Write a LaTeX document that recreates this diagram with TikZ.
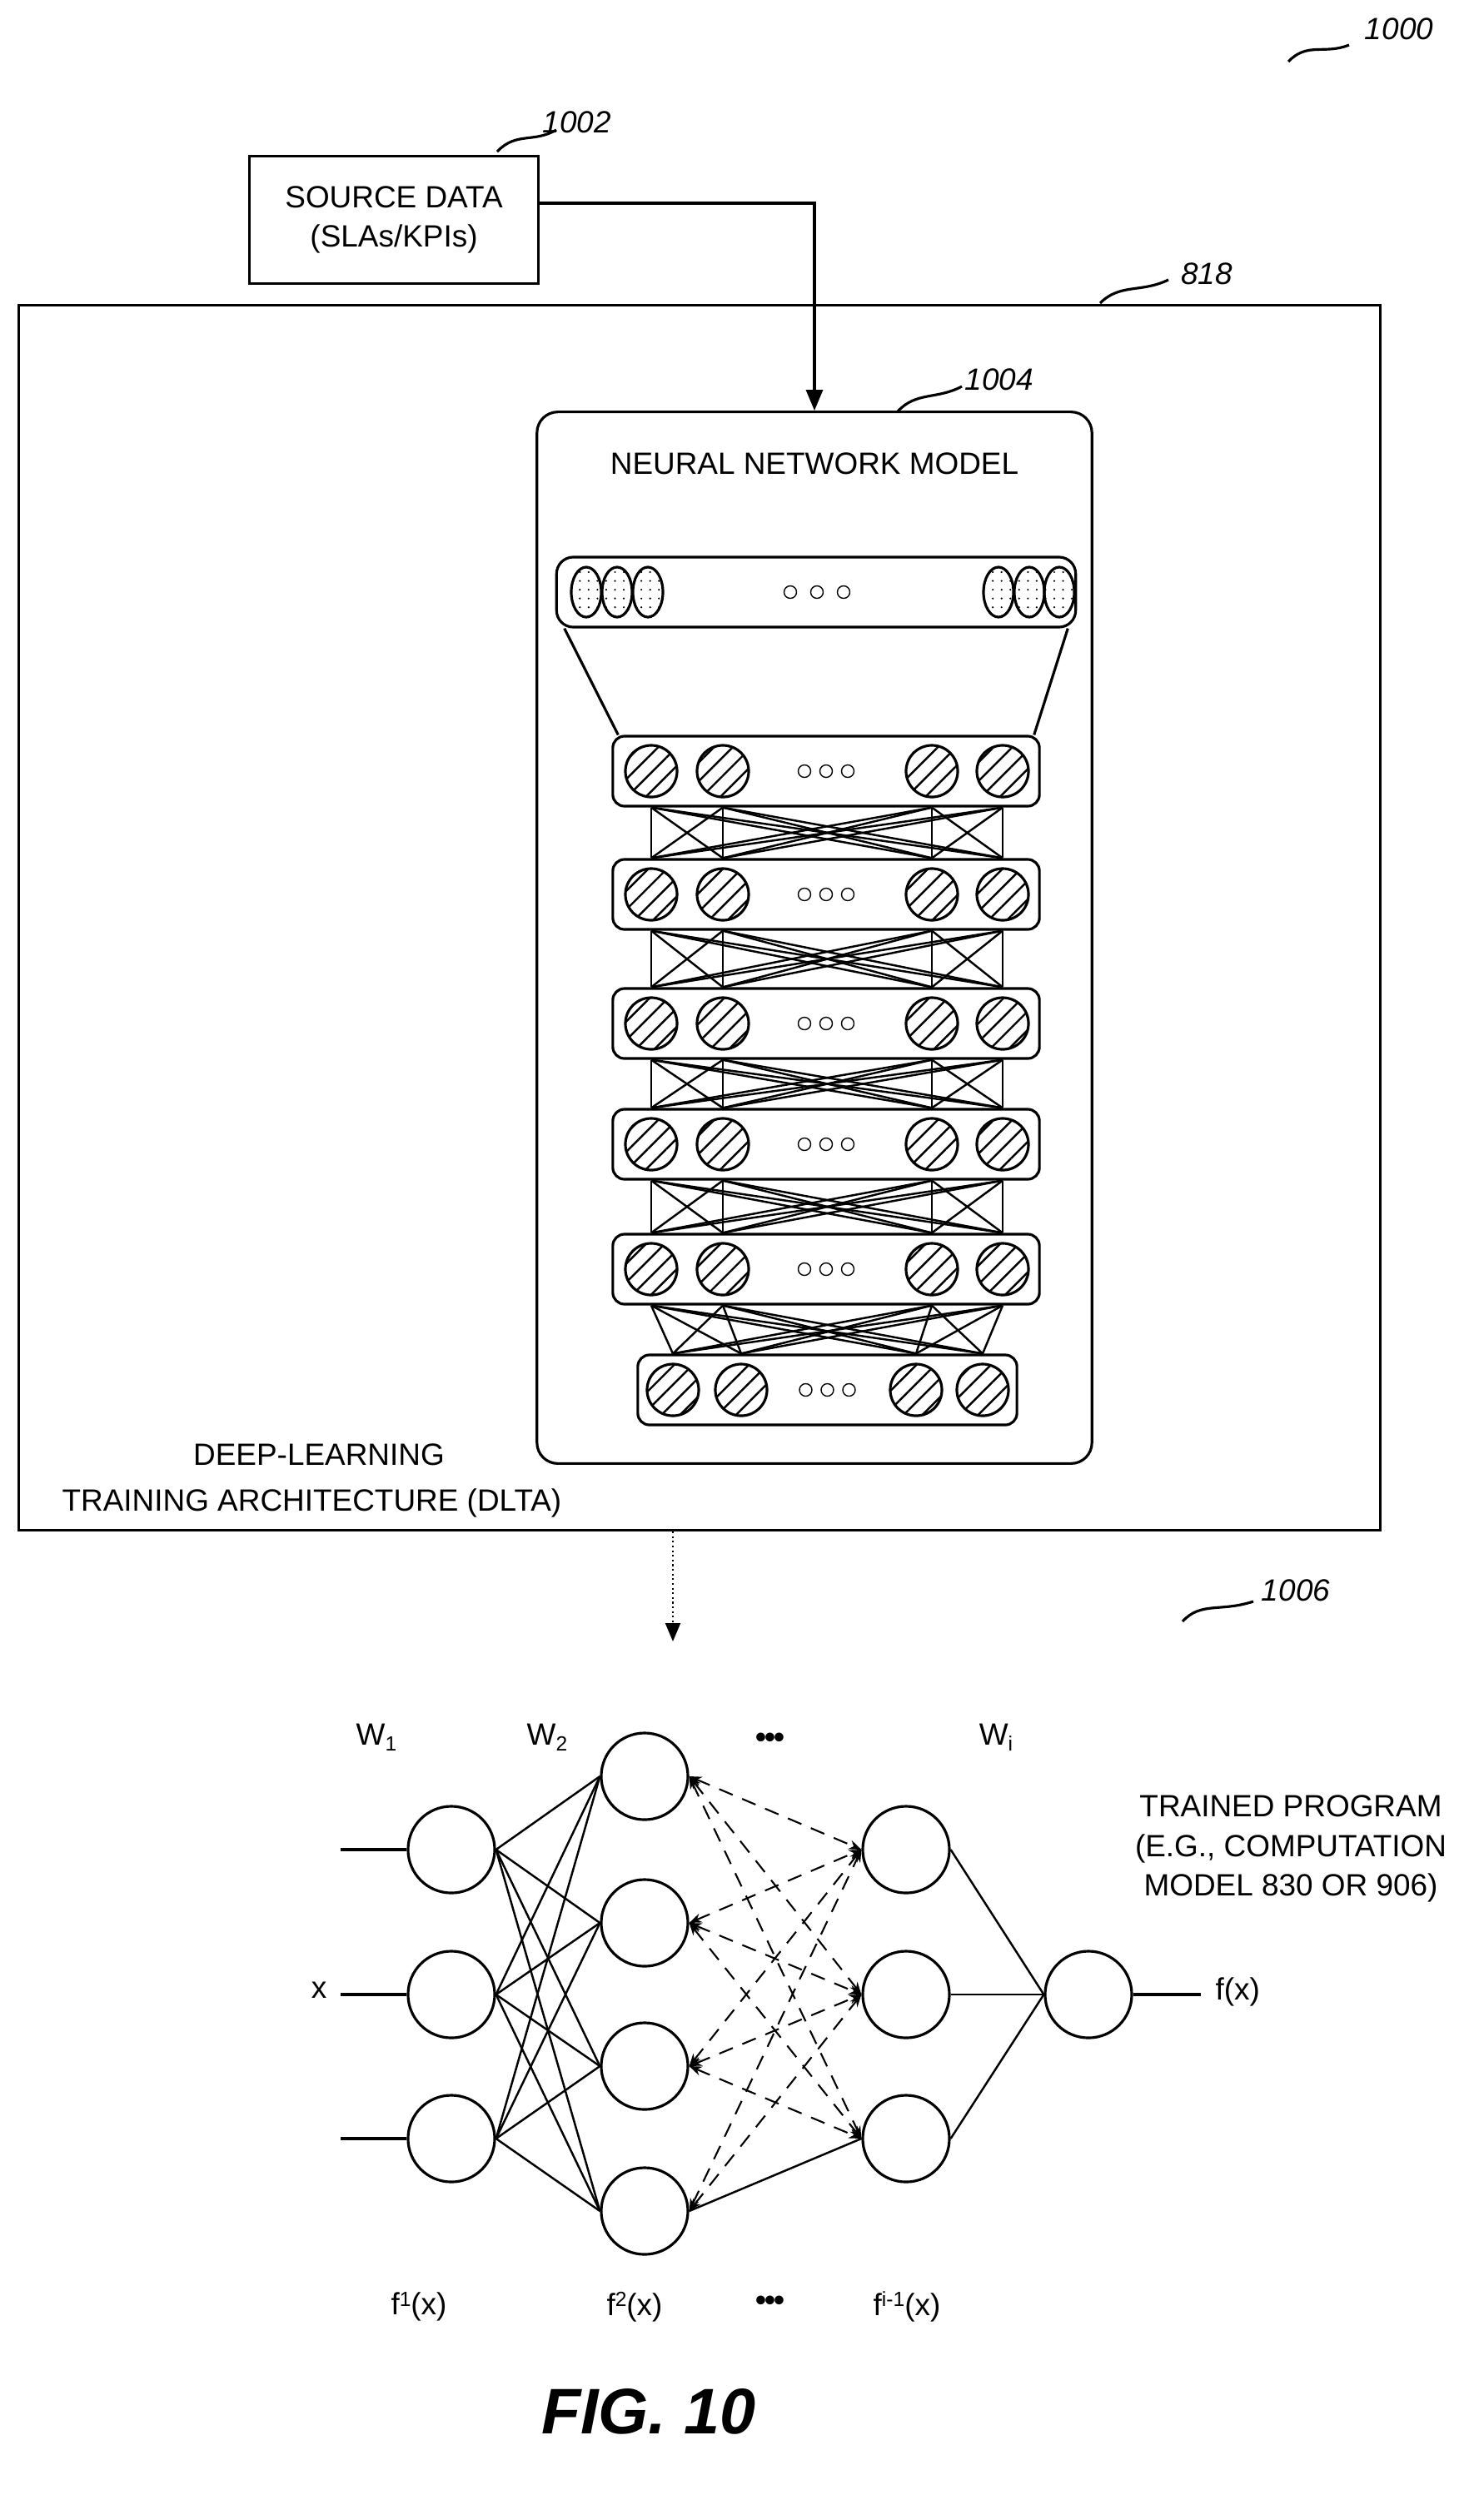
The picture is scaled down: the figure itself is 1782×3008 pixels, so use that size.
\documentclass[tikz,border=0pt]{standalone}
\usepackage{fontspec}
\setmainfont{Liberation Sans}
\usetikzlibrary{patterns.meta,arrows.meta,calc,shapes.geometric}
\begin{document}
\begin{tikzpicture}[x=0.01cm,y=-0.01cm,line width=0.9pt,
  lbl/.style={font=\fontsize{10.5}{13.5}\selectfont,inner sep=0},
  rbox/.style={draw,rounded corners=0.14cm,inner sep=0},
  hc/.style={circle,draw,minimum size=0.62cm,inner sep=0,pattern={Lines[angle=45,distance=4.5pt,line width=0.7pt]}},
  de/.style={ellipse,draw,minimum width=0.36cm,minimum height=0.6cm,inner sep=0,pattern={Dots[distance=3pt,radius=0.35pt]}},
  sd/.style={circle,draw,line width=0.4pt,minimum size=0.15cm,inner sep=0},
  nc/.style={circle,draw,minimum size=1.04cm,inner sep=0},
  refm/.style={line width=0.9pt},
  reft/.style={font=\fontsize{10.5}{12}\selectfont\itshape,inner sep=0}]
\useasboundingbox (0,0) rectangle (1782,3008);
% reference marks
\node[reft] (r1000) at (1680,35) {1000};
\draw[refm] (1547,74) .. controls (1570,50) and (1590,66) .. (1620,54);
\node[reft] (r1002) at (693,147) {1002};
\draw[refm] (597,182) .. controls (620,158) and (640,172) .. (668,156);
\node[reft] (r818) at (1449,329) {818};
\draw[refm] (1321,364) .. controls (1345,340) and (1370,352) .. (1403,336);
\node[reft] (r1004) at (1200,456) {1004};
\draw[refm] (1078,494) .. controls (1100,470) and (1125,480) .. (1155,464);
\node[reft] (r1006) at (1556,1910) {1006};
\draw[refm] (1420,1947) .. controls (1442,1923) and (1465,1936) .. (1505,1923);
% boxes
\node[draw,minimum width=16.34cm,minimum height=14.70cm,inner sep=0] (D) at (840,1102) {};
\node[draw,minimum width=3.47cm,minimum height=1.53cm,align=center,lbl] (S) at (473,264) {SOURCE DATA\\(SLAs/KPIs)};
\node[rbox,rounded corners=0.25cm,minimum width=6.66cm,minimum height=12.62cm] (N) at (978,1126) {};
\node[lbl] (Nt) at (978,557) {NEURAL NETWORK MODEL};
\draw[-{Triangle[length=0.25cm,width=0.2cm]}] ($(S.east)+(0,-20)$) -| (N.north);
\node[lbl,anchor=west] (dl2) at (73,1805) {TRAINING ARCHITECTURE (DLTA)};
\node[lbl] (dl1) at (383,1747) {DEEP-LEARNING};
% top layer
\node[rbox,rounded corners=0.2cm,minimum width=6.23cm,minimum height=0.84cm] (T) at (980,711) {};
\foreach \k/\x in {1/704,2/741,3/778,4/1199,5/1236,6/1272} \node[de] (T-\k) at (\x,711) {};
\foreach \k/\x in {1/949,2/981,3/1013} \node[sd] (Td\k) at (\x,711) {};
% hidden layers
\foreach \i/\y/\l/\r/\a/\b/\c/\d in {1/926/736/1248/782/868/1119/1204,2/1074/736/1248/782/868/1119/1204,3/1229/736/1248/782/868/1119/1204,4/1374/736/1248/782/868/1119/1204,5/1524/736/1248/782/868/1119/1204,6/1669/766/1221/808/890/1100/1180}{
  \pgfmathsetmacro\w{(\r-\l)/100}
  \node[rbox,minimum width=\w cm,minimum height=0.84cm] (L\i) at ({(\l+\r)/2},\y) {};
  \node[hc] (L\i-1) at (\a,\y) {};
  \node[hc] (L\i-2) at (\b,\y) {};
  \node[hc] (L\i-3) at (\c,\y) {};
  \node[hc] (L\i-4) at (\d,\y) {};
  \node[sd] (L\i-d1) at ({(\l+\r)/2-26},\y) {};
  \node[sd] (L\i-d2) at ({(\l+\r)/2},\y) {};
  \node[sd] (L\i-d3) at ({(\l+\r)/2+26},\y) {};
}
\foreach \i in {1,...,5}{
  \pgfmathtruncatemacro\j{\i+1}
  \foreach \p in {1,...,4}{\foreach \q in {1,...,4}{
    \draw[line width=0.7pt] (L\i-\p |- L\i.south) -- (L\j-\q |- L\j.north);}}
}
\draw ($(T.south west)+(11,0)$) -- ($(L1.north west)+(8,0)$);
\draw ($(T.south east)+(-11,0)$) -- ($(L1.north east)+(-8,0)$);
% dotted arrow
\coordinate (da) at (808,1971);
\draw[densely dotted,line width=0.6pt,-{Triangle[length=0.22cm,width=0.18cm]}] (D.south -| da) -- (da);
% bottom network
\foreach \k/\y in {1/2221,2/2395,3/2568} \node[nc] (A\k) at (542,\y) {};
\foreach \k/\y in {1/2133,2/2309,3/2481,4/2655} \node[nc] (B\k) at (774,\y) {};
\foreach \k/\y in {1/2221,2/2395,3/2568} \node[nc] (C\k) at (1088,\y) {};
\node[nc] (O) at (1307,2395) {};
\coordinate (in0) at (409,0);
\foreach \k in {1,2,3}{\draw (A\k.west) -- (A\k.west -| in0);}
\foreach \a in {1,2,3}{\foreach \b in {1,...,4}{\draw[line width=0.7pt] (A\a.east) -- (B\b.west);}}
\foreach \b in {1,...,4}{\foreach \c in {1,2,3}{
  \ifnum\b\c=43\relax
    \draw[line width=0.7pt] (B\b.east) -- (C\c.west);
  \else
    \draw[dash pattern=on 5pt off 3.5pt,line width=0.6pt,{Stealth[length=0.15cm]}-{Stealth[length=0.15cm]}] (B\b.east) -- (C\c.west);
  \fi}}
\foreach \c in {1,2,3} \draw[line width=0.7pt] (C\c.east) -- (O.west);
\coordinate (fo) at (1442,2395);
\draw (O.east) -- (fo);
\node[lbl,anchor=west] (fx) at (1458,2392) {f(x)};
\node[lbl] (xl) at (383,2390) {x};
\node[lbl] (w1) at (452,2086) {W{\fontsize{7}{8}\selectfont\raisebox{-2pt}{1}}};
\node[lbl] (w2) at (657,2086) {W{\fontsize{7}{8}\selectfont\raisebox{-2pt}{2}}};
\node[lbl] (wd) at (925,2090) {\textbf{\textbullet\kern-0.5pt\textbullet\kern-0.5pt\textbullet}};
\node[lbl] (wi) at (1196,2086) {W{\fontsize{7}{8}\selectfont\raisebox{-2pt}{i}}};
\node[lbl] (f1) at (503,2770) {f{\fontsize{7}{8}\selectfont\raisebox{3pt}{1}}(x)};
\node[lbl] (f2) at (762,2770) {f{\fontsize{7}{8}\selectfont\raisebox{3pt}{2}}(x)};
\node[lbl] (fd) at (925,2766) {\textbf{\textbullet\kern-0.5pt\textbullet\kern-0.5pt\textbullet}};
\node[lbl] (fi) at (1089,2770) {f{\fontsize{7}{8}\selectfont\raisebox{3pt}{i-1}}(x)};
\node[lbl,align=center] (tp) at (1550,2220) {TRAINED PROGRAM\\(E.G., COMPUTATION\\MODEL 830 OR 906)};
\node[inner sep=0,font=\fontsize{22}{24}\bfseries\itshape] (fig) at (779,2896) {FIG. 10};
\end{tikzpicture}
\end{document}
